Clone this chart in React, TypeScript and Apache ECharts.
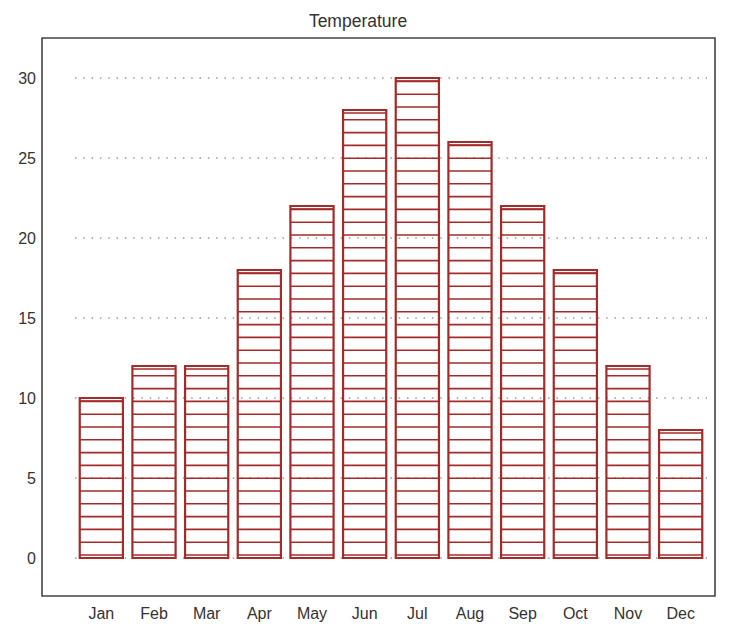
import React, { useEffect, useRef } from "react";
import * as echarts from "echarts";

const months = ["Jan", "Feb", "Mar", "Apr", "May", "Jun", "Jul", "Aug", "Sep", "Oct", "Nov", "Dec"];
const temperatures = [10, 12, 12, 18, 22, 28, 30, 26, 22, 18, 12, 8];
const yTicks = [0, 5, 10, 15, 20, 25, 30];
const chartTitle = "Temperature";

const BAR_COLOR = "#a52a2a";
const FONT = "Liberation Sans, Arial, sans-serif";

export default function App() {
  const ref = useRef<HTMLDivElement>(null);
  useEffect(() => {
    if (!ref.current) return;
    const chart = echarts.init(ref.current, null, { renderer: "svg" });
    const data = temperatures.map((v, i) => [i, v]);
    chart.setOption({
      animation: false,
      backgroundColor: "#ffffff",
      textStyle: { fontFamily: FONT },
      grid: { left: 75, right: 23, top: 78, bottom: 66, containLabel: false },
      xAxis: {
        type: "category",
        data: months,
        axisLine: { show: false },
        axisTick: { show: false },
        axisLabel: { color: "#333", fontSize: 16, margin: 47, fontFamily: FONT },
        splitLine: { show: false },
      },
      yAxis: {
        type: "value",
        min: yTicks[0],
        max: yTicks[yTicks.length - 1],
        interval: 5,
        axisLine: { show: false },
        axisTick: { show: false },
        axisLabel: { color: "#333", fontSize: 16, margin: 39, fontFamily: FONT },
        splitLine: { show: true, lineStyle: { color: "#999", width: 1.5, type: [1.5, 6.8] } },
      },
      graphic: [
        {
          type: "text",
          x: 358,
          y: 21,
          silent: true,
          style: {
            text: chartTitle,
            fill: "#333",
            fontSize: 17.5,
            fontFamily: FONT,
            textAlign: "center",
            textVerticalAlign: "middle",
          },
        },
        {
          type: "rect",
          shape: { x: 42, y: 38, width: 673, height: 558 },
          style: { fill: "none", stroke: "#444", lineWidth: 1.6 },
          silent: true,
          z: 100,
        },
      ],
      series: [
        {
          type: "custom",
          data,
          renderItem: (params: any, api: any) => {
            const idx = api.value(0);
            const val = api.value(1);
            const top = api.coord([idx, val]);
            const base = api.coord([idx, 0]);
            const bandW = api.size([1, 0])[0];
            const w = bandW * 0.82;
            const x0 = top[0] - w / 2;
            const yTop = top[1];
            const yBot = base[1];
            const children: any[] = [
              {
                type: "rect",
                shape: { x: x0, y: yTop, width: w, height: yBot - yTop },
                style: { fill: "none", stroke: BAR_COLOR, lineWidth: 2.2 },
              },
            ];
            const lineStyle = { stroke: BAR_COLOR, lineWidth: 1.6 };
            for (let y = yBot - 3; y >= yTop + 2; y -= 12.8) {
              children.push({ type: "line", shape: { x1: x0, y1: y, x2: x0 + w, y2: y }, style: lineStyle });
            }
            children.push({ type: "line", shape: { x1: x0, y1: yTop + 3, x2: x0 + w, y2: yTop + 3 }, style: lineStyle });
            return { type: "group", children };
          },
        },
      ],
    });
    return () => chart.dispose();
  }, []);
  return <div ref={ref} style={{ width: 730, height: 624, position: "absolute", left: 0, top: 0 }} />;
}
